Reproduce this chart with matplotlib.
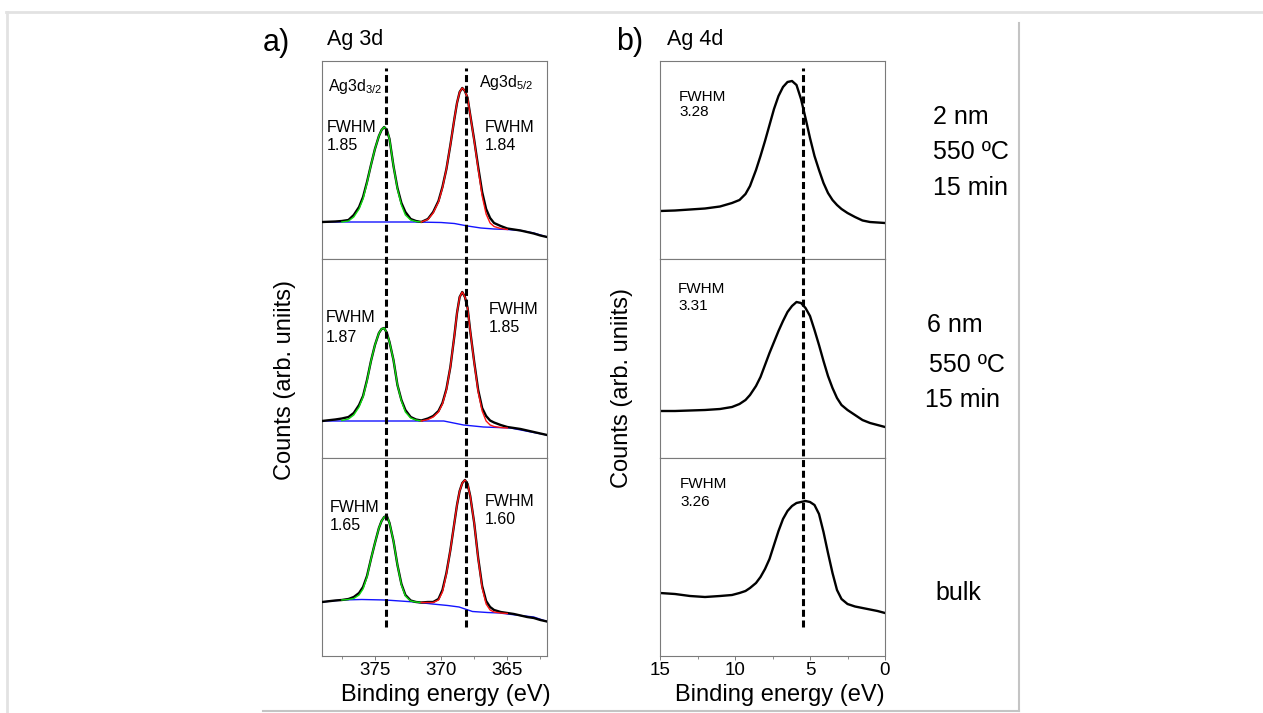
import matplotlib
matplotlib.use("Agg")
import matplotlib.pyplot as plt
from matplotlib.lines import Line2D
from matplotlib.ticker import MultipleLocator

plt.rcParams['font.family'] = ['Liberation Sans', 'DejaVu Sans']
plt.rcParams['mathtext.fontset'] = 'custom'
plt.rcParams['mathtext.rm'] = 'Liberation Sans'
plt.rcParams['mathtext.it'] = 'Liberation Sans:italic'

# ---------------- data: Ag 3d (binding energy, eV ; counts a.u.) ----------------
x3d = [379.0, 378.0, 377.5, 377.0, 376.6, 376.2, 375.9, 375.6, 375.3, 375.0, 374.7,
       374.5, 374.3, 374.1, 373.9, 373.6, 373.3, 373.0, 372.7, 372.3, 371.9, 371.5,
       371.0, 370.6, 370.2, 369.9, 369.6, 369.3, 369.0, 368.8, 368.6, 368.4, 368.2,
       368.0, 367.8, 367.5, 367.2, 366.9, 366.6, 366.3, 366.0, 365.5, 365.0, 364.5,
       364.0, 363.5, 363.0, 362.5, 362.0]
data3d_2nm = [37, 37.5, 38, 39, 44, 52, 62, 77, 94, 110, 123, 129, 132, 129, 120, 93, 71, 56,
              47, 40, 38, 37, 40, 47, 58, 72, 90, 114, 140, 156, 167, 171, 168, 161, 144,
              119, 92, 67, 50, 41, 36, 33, 30.5, 29.5, 28.5, 27, 25.5, 23.5, 22]
data3d_6nm = [37, 38.5, 39.5, 41, 45, 53, 62, 78, 97, 113, 125, 129, 130, 125, 116, 98, 73, 58,
              48, 41, 38.5, 37.5, 39.5, 42, 47, 55, 69, 91, 122, 145, 161, 166, 161, 150, 127,
              96, 68, 50, 42, 37.5, 35.5, 33, 31, 30, 29, 27.5, 26, 24.5, 23]
data3d_bulk = [54, 55.5, 56, 57, 59, 63, 69, 80, 97, 113, 128, 135, 139, 140, 133, 115, 91, 72,
               61, 55.5, 54, 53.5, 54, 54, 57, 66, 83, 106, 133, 151, 165, 173, 176, 172, 160,
               133, 98, 70, 55, 49, 46, 44, 43, 42, 40.5, 39, 38, 36, 34.5]

x_fit32 = [377.5, 377.0, 376.6, 376.2, 375.9, 375.6, 375.3, 375.0, 374.7, 374.5, 374.3,
           374.1, 373.9, 373.6, 373.3, 373.0, 372.7, 372.3, 371.9, 371.5]
fit32_2nm = [37, 38, 42, 50, 60, 76, 94, 110, 123, 129, 132, 129, 120, 93, 70, 54, 44, 39, 37.5, 37]
fit32_6nm = [37.5, 39, 43, 51, 61, 77, 97, 113, 125, 129, 130, 125, 116, 98, 73, 57, 46, 40, 38, 37]
fit32_bulk = [56, 56.5, 57.5, 61, 67, 79, 97, 113, 128, 135, 139, 140, 133, 115, 91, 71, 60, 55, 54, 53.5]

x_fit52 = [371.5, 371.0, 370.6, 370.2, 369.9, 369.6, 369.3, 369.0, 368.8, 368.6, 368.4,
           368.2, 368.0, 367.8, 367.5, 367.2, 366.9, 366.6, 366.3, 366.0, 365.5, 365.0]
fit52_2nm = [37, 39.5, 46, 57, 71, 90, 114, 140, 156, 167, 171, 168, 161, 144, 118, 90, 63, 45,
             36, 32.5, 30.5, 29.5]
fit52_6nm = [37, 38.5, 41, 46, 54, 68, 91, 122, 145, 161, 166, 161, 150, 127, 95, 66, 47, 37,
             33, 31.5, 30.5, 30]
fit52_bulk = [53.5, 53.5, 53.5, 56, 64, 82, 106, 133, 151, 165, 173, 176, 172, 160, 133, 97, 68,
              52, 46, 44, 43, 42.5]

x_bg_2nm = [379, 372, 370, 369, 368, 367, 366, 365, 364, 363, 362]
bg_2nm = [37, 37, 36.5, 35.5, 33, 31, 30, 29.5, 28.5, 26, 22]
x_bg_6nm = [379, 371.8, 369.8, 368.3, 366.8, 364.75, 363.2, 362]
bg_6nm = [37, 37, 37, 33, 31, 30, 26, 23]
x_bg_bulk = [379, 377.5, 376, 374.2, 372, 370.66, 369.5, 368.64, 367.63, 366.5, 365.6,
             364.34, 363, 362]
bg_bulk = [54, 56, 56.5, 56, 54, 52, 50.5, 49, 44.5, 43.5, 43, 41, 39, 34.5]

# ---------------- data: Ag 4d ----------------
x4d = [15, 14, 13, 12, 11, 10.2, 9.7, 9.3, 9.0, 8.6, 8.3, 8.0, 7.7, 7.4, 7.1, 6.8, 6.5,
       6.2, 5.9, 5.6, 5.3, 5.0, 4.7, 4.4, 4.1, 3.8, 3.5, 3.2, 2.9, 2.5, 2.0, 1.5, 1.0, 0.5, 0]
data4d_2nm = [48, 48.5, 49.5, 50.5, 52.5, 56, 59, 65, 73, 89, 103, 118, 134, 150, 163, 172,
              177, 178, 174, 160, 141, 121, 103, 89, 76, 66, 59, 54, 50, 46, 42, 38.5, 37,
              36.5, 36]
data4d_6nm = [47, 47, 47.5, 48, 49, 51, 54, 58, 63, 72, 81, 93, 105, 116, 127, 137, 146, 152,
              156, 155, 150, 142, 128, 113, 97, 82, 70, 60, 53, 48, 43, 38, 35, 33, 31]
data4d_bulk = [63, 62, 60, 59, 60, 61, 63, 65, 68, 73, 79, 87, 97, 111, 125, 137, 145, 150,
               153, 154, 155, 154, 151, 142, 124, 103, 83, 66, 57, 52, 49.5, 48, 46.5, 45, 43]

dash_3d = [374.15, 368.1]
dash_4d = [5.5]
fwhm_3d = [("1.85", "1.84"), ("1.87", "1.85"), ("1.65", "1.60")]
fwhm_4d = ["3.28", "3.31", "3.26"]
xticks_3d = [375, 370, 365]
xticks_4d = [15, 10, 5, 0]

# ---------------- figure ----------------
W, H = 1263, 713
fig = plt.figure(figsize=(W / 100, H / 100), dpi=100)


def fx(x):
    return x / W


def fy(y):
    return 1 - y / H


# decorative frame of the original page
deco = [([6, W], [12, 12], '#e2e2e2', 2.0), ([7, 7], [12, H], '#e2e2e2', 2.0),
        ([1019, 1019], [23, 711], '#c4c4c4', 1.5), ([263, 1019], [711, 711], '#c4c4c4', 1.5)]
for xs, ys, c, lw in deco:
    fig.add_artist(Line2D([fx(v) for v in xs], [fy(v) for v in ys], color=c, lw=lw,
                          transform=fig.transFigure))

bounds = [61, 259, 458, 656]
left_x0, right_x0, aw = 322, 660, 225
spine_col = '#7a7a7a'

sets3d = [(data3d_2nm, fit32_2nm, fit52_2nm, x_bg_2nm, bg_2nm),
          (data3d_6nm, fit32_6nm, fit52_6nm, x_bg_6nm, bg_6nm),
          (data3d_bulk, fit32_bulk, fit52_bulk, x_bg_bulk, bg_bulk)]
sets4d = [data4d_2nm, data4d_6nm, data4d_bulk]


def style(ax, bottom):
    for s in ax.spines.values():
        s.set_color(spine_col)
        s.set_linewidth(0.8)
    ax.set_yticks([])
    ax.tick_params(axis='x', direction='out', length=3, width=0.7, color=spine_col,
                   labelsize=13.5, pad=1.0)
    ax.tick_params(axis='x', which='minor', direction='out', length=2, width=0.6,
                   color=spine_col)
    if not bottom:
        ax.tick_params(axis='x', which='both', labelbottom=False, length=0)


for i in range(3):
    top, bot = bounds[i], bounds[i + 1]
    rect_l = [fx(left_x0), fy(bot), aw / W, (bot - top) / H]
    rect_r = [fx(right_x0), fy(bot), aw / W, (bot - top) / H]
    axl = fig.add_axes(rect_l)
    axr = fig.add_axes(rect_r)
    d, g, r, xb, b = sets3d[i]
    axl.plot(xb, b, color='#1414ff', lw=1.0, zorder=2)
    axl.plot(x3d, d, color='black', lw=1.7, zorder=3)
    axl.plot(x_fit32, g, color='#10dc10', lw=1.0, zorder=4)
    axl.plot(x_fit52, r, color='#ff1414', lw=1.0, zorder=4)
    axl.set_xlim(379, 362)
    axl.set_ylim(0, bot - top)
    axl.set_xticks(xticks_3d)
    axl.xaxis.set_minor_locator(MultipleLocator(2.5))
    style(axl, i == 2)

    axr.plot(x4d, sets4d[i], color='black', lw=1.7)
    axr.set_xlim(15, 0)
    axr.set_ylim(0, bot - top)
    axr.set_xticks(xticks_4d)
    axr.xaxis.set_minor_locator(MultipleLocator(2.5))
    style(axr, i == 2)

# overlay axes for the dashed reference lines spanning all panels
tot = bounds[3] - bounds[0]
ymin_f = (bounds[3] - 627) / tot
ymax_f = (bounds[3] - 68) / tot
for x0, lim, dashes in [(left_x0, (379, 362), dash_3d), (right_x0, (15, 0), dash_4d)]:
    ov = fig.add_axes([fx(x0), fy(bounds[3]), aw / W, tot / H])
    ov.set_xlim(*lim)
    ov.patch.set_alpha(0)
    ov.axis('off')
    for xv in dashes:
        ov.axvline(xv, ymin=ymin_f, ymax=ymax_f, color='black', lw=2.2,
                   linestyle=(0, (2.3, 1.2)), zorder=10)

# annotations (figure pixel positions)
fig.text(fx(263), fy(43), "a)", fontsize=22, va='center', ha='left')
fig.text(fx(327), fy(40), "Ag 3d", fontsize=15.5, va='center', ha='left')
fig.text(fx(616), fy(42), "b)", fontsize=22, va='center', ha='left')
fig.text(fx(667), fy(40), "Ag 4d", fontsize=15.5, va='center', ha='left')

fig.text(fx(328), fy(86), "Ag3d$_{\\mathrm{3/2}}$", fontsize=11.5, va='center', ha='left')
fig.text(fx(479), fy(83), "Ag3d$_{\\mathrm{5/2}}$", fontsize=11.5, va='center', ha='left')

fwhm_pos_l = [((327, 127, 146), (485, 127, 146)),
              ((326, 318, 337), (489, 309, 328)),
              ((330, 507, 526), (485, 501, 520))]
for (p1, p2), (v1, v2) in zip(fwhm_pos_l, fwhm_3d):
    for (xx, y1, y2), v in [(p1, v1), (p2, v2)]:
        fig.text(fx(xx), fy(y1), "FWHM", fontsize=11.5, va='center', ha='left')
        fig.text(fx(xx), fy(y2), v, fontsize=11.5, va='center', ha='left')

fwhm_pos_r = [(679, 97, 112), (678, 289, 306), (680, 484, 502)]
for (xx, y1, y2), v in zip(fwhm_pos_r, fwhm_4d):
    fig.text(fx(xx), fy(y1), "FWHM", fontsize=11, va='center', ha='left')
    fig.text(fx(xx), fy(y2), v, fontsize=11, va='center', ha='left')

side = [(933, 117, "2 nm"), (933, 152, "550 ºC"), (933, 188, "15 min"),
        (927, 325, "6 nm"), (929, 365, "550 ºC"), (925, 400, "15 min"),
        (935, 593, "bulk")]
for xx, yy, t in side:
    fig.text(fx(xx), fy(yy), t, fontsize=18, va='center', ha='left')

fig.text(fx(446), fy(695), "Binding energy (eV)", fontsize=17, va='center', ha='center')
fig.text(fx(780), fy(695), "Binding energy (eV)", fontsize=17, va='center', ha='center')
fig.text(fx(285), fy(380), "Counts (arb. uniits)", fontsize=17, va='center', ha='center',
         rotation=90)
fig.text(fx(622), fy(388), "Counts (arb. uniits)", fontsize=17, va='center', ha='center',
         rotation=90)

fig.savefig("out.png", dpi=100)
